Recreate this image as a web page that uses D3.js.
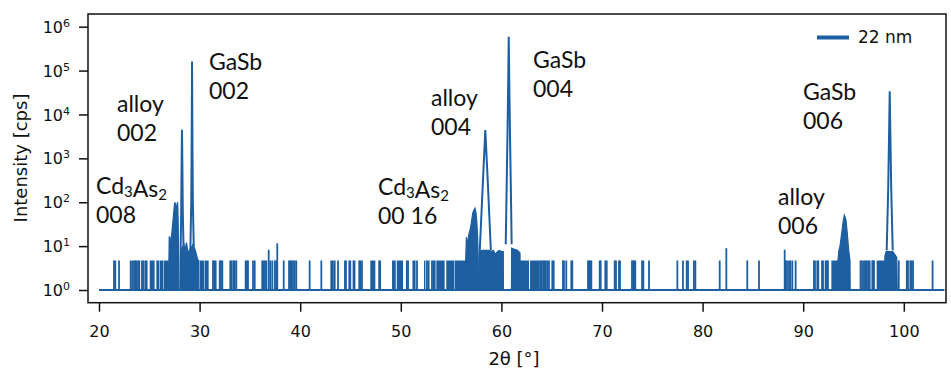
<!DOCTYPE html>
<html><head><meta charset="utf-8">
<script src="https://cdn.jsdelivr.net/npm/d3@7"></script>
<style>body{margin:0;background:#fff}</style>
</head><body><svg id="c" width="951" height="370"></svg>
<script>
// ---------------- data ----------------
const seriesName = "22 nm";
const xTicks = [20, 30, 40, 50, 60, 70, 80, 90, 100];
const yTicks = [1, 10, 100, 1000, 10000, 100000, 1000000];
const yTickExponents = ["0", "1", "2", "3", "4", "5", "6"];
const xLabel = "2θ [°]";
const yLabel = "Intensity [cps]";
const scanRange = [20.0, 104.04];
const baselineCps = 1;
const noiseCps = 4.7;
// single-count spikes (2θ)
const spikePositions = [
  21.49, 21.62, 21.99, 23.15, 23.31, 23.48, 23.6, 23.72, 23.88, 24.0, 24.27, 24.40, 24.6, 24.74,
  31.33, 31.45, 31.6, 32.0, 32.13, 32.26, 33.05, 33.2, 33.39, 33.49, 33.65, 34.58, 34.7, 34.81,
  35.31, 35.48, 36.23, 36.36, 36.5, 36.63, 37.03, 37.23, 37.49, 37.62, 38.36, 38.89, 39.02, 39.15,
  39.28, 39.45, 39.61, 40.94, 42.10, 43.09, 43.25, 43.43, 43.76,
  44.45, 44.55, 44.88, 44.98, 45.3, 45.4, 45.87, 45.97, 46.14, 47.85, 47.95, 50.6, 50.72, 51.25,
  51.38, 51.61, 52.6, 52.77, 53.1, 53.25, 53.37,
  63.87, 64.0, 64.15, 64.30, 64.40, 64.55, 64.73, 65.06, 65.20, 66.12, 66.22, 66.45, 66.95, 67.05,
  68.61, 68.72, 68.83, 68.94, 69.77, 69.87, 70.33, 70.47, 71.26, 71.39, 71.69, 71.79, 72.98, 73.1,
  73.2, 73.31, 73.98, 74.11, 74.67, 77.49, 78.05, 78.42, 78.55, 79.14, 79.28,
  81.70, 84.44, 85.61, 88.26, 88.39, 88.59, 88.72, 88.92, 89.25, 91.07, 91.17, 91.40, 91.50,
  91.87, 91.97, 92.23, 92.35, 92.46,
  95.70, 95.85, 96.04, 96.17, 96.31, 96.45, 96.61, 96.87, 96.95, 97.04,
  99.5, 100.3, 100.42, 100.65, 100.78, 100.92, 102.86
];
const tallSpikes = [[36.87, 8.3], [37.72, 11.7], [82.36, 8.9], [88.16, 8.3]];
// regions where single-count spikes are so dense they merge
const denseBands = [
  [25.04, 25.53], [25.70, 26.0], [26.05, 26.4], [26.45, 26.95],
  [30.0, 30.45], [30.5, 30.9],
  [46.97, 47.47], [49.13, 49.5], [49.6, 50.22], [52.31, 52.45], [53.53, 54.36],
  [54.52, 55.3], [55.35, 56.5],
  [61.85, 62.75], [62.85, 63.81],
  [92.80, 93.5], [97.3, 98.3]
];
// broad (filled) features: [2θ, cps]
const cd008 = [[26.95,4.7],[26.98,16],[27.05,16],[27.1,9],[27.18,14],[27.3,28],[27.4,50],[27.5,88],[27.56,100],[27.64,75],[27.7,72],[27.76,92],[27.82,100],[27.87,40],[27.91,6],[27.93,1]];
const between002 = [[28.12,1],[28.13,8],[28.25,9],[28.45,11],[28.55,8],[28.7,12],[28.85,7],[29.0,8],[29.15,9],[29.35,11],[29.5,9],[29.65,7],[29.8,5],[29.9,4.7],[29.92,1]];
const cd0016 = [[56.45,4.7],[56.52,16],[56.65,11],[56.75,18],[56.88,23],[57.0,32],[57.15,57],[57.3,68],[57.38,73],[57.47,58],[57.55,39],[57.64,16],[57.7,5],[57.72,1]];
const between004 = [[57.82,1],[57.84,7],[58.0,8],[58.4,8],[58.8,8],[59.0,7.5],[59.2,8],[59.4,6.5],[59.6,7.5],[59.8,8],[60.0,7.5],[60.19,7.5],[60.2,1]];
const after004 = [[61.0,1],[61.02,9],[61.3,8.5],[61.6,8],[61.85,7],[61.87,1]];
const alloy006 = [[93.45,4.7],[93.55,8],[93.66,10],[93.83,20],[93.99,39],[94.09,51],[94.18,45],[94.26,38],[94.38,20],[94.52,8],[94.65,4.7],[94.67,1]];
const around006 = [[98.1,1],[98.12,6],[98.25,7.5],[98.9,7.5],[99.1,6.5],[99.3,5.5],[99.35,1]];
const humpEnvelopes = [cd008, between002, cd0016, between004, after004, alloy006, around006];
// sharp Bragg peaks: [2θ, cps]
const alloy002 = [[28.08,1],[28.12,10],[28.17,60],[28.21,700],[28.25,4500],[28.29,700],[28.33,60],[28.4,10]];
const gasb002 = [[29.08,8],[29.17,100],[29.21,2000],[29.25,160000],[29.29,2000],[29.33,100],[29.42,10]];
const alloy004 = [[57.8,1],[57.85,8],[58.14,225],[58.40,4400],[58.67,225],[58.95,8]];
const gasb004 = [[60.43,11],[60.52,200],[60.6,3000],[60.68,60000],[60.73,590000],[60.78,60000],[60.86,3000],[60.94,200],[61.02,11]];
const gasb006 = [[98.3,8],[98.45,200],[98.53,3000],[98.6,34000],[98.67,3000],[98.75,200],[98.9,8]];
const sharpPeaks = [alloy002, gasb002, alloy004, gasb004, gasb006];
// peak labels ("_" marks a subscript digit)
const peakLabels = [
  ["Cd_3As_2", "008"], ["alloy", "002"], ["GaSb", "002"],
  ["Cd_3As_2", "00 16"], ["alloy", "004"], ["GaSb", "004"],
  ["alloy", "006"], ["GaSb", "006"]
];

// ---------------- drawing ----------------
const color = "#1d5fa0";
const svg = d3.select("#c");
const L = 88, R = 946, T = 14, B = 302.7;
const x = d3.scaleLinear().domain([18.907, 104.195]).range([L, R]);
const y = d3.scaleLog().domain([Math.pow(10, -0.2893), Math.pow(10, 6.2893)]).range([B, T]);

const g = svg.append("g");
const clip = svg.append("clipPath").attr("id", "pc");
clip.append("rect").attr("x", L).attr("y", T).attr("width", R - L).attr("height", B - T);
const plot = g.append("g").attr("clip-path", "url(#pc)");

// baseline
plot.append("line").attr("x1", x(scanRange[0])).attr("x2", x(scanRange[1]))
  .attr("y1", y(baselineCps)).attr("y2", y(baselineCps))
  .attr("stroke", color).attr("stroke-width", 2);

// dense bands
plot.selectAll("rect.band").data(denseBands).join("rect").attr("class", "band")
  .attr("x", d => x(d[0])).attr("width", d => x(d[1]) - x(d[0]))
  .attr("y", y(noiseCps)).attr("height", y(baselineCps) - y(noiseCps))
  .attr("fill", color);

// spikes
plot.selectAll("line.sp").data(spikePositions).join("line").attr("class", "sp")
  .attr("x1", d => x(d)).attr("x2", d => x(d))
  .attr("y1", y(baselineCps)).attr("y2", y(noiseCps))
  .attr("stroke", color).attr("stroke-width", 1.8);
plot.selectAll("line.tsp").data(tallSpikes).join("line").attr("class", "tsp")
  .attr("x1", d => x(d[0])).attr("x2", d => x(d[0]))
  .attr("y1", y(baselineCps)).attr("y2", d => y(d[1]))
  .attr("stroke", color).attr("stroke-width", 1.8);

// humps
const area = d3.area().x(d => x(d[0])).y0(y(baselineCps)).y1(d => y(d[1]));
plot.selectAll("path.hump").data(humpEnvelopes).join("path").attr("class", "hump")
  .attr("d", area).attr("fill", color).attr("stroke", color).attr("stroke-width", 1.2);

// sharp peaks
const line = d3.line().x(d => x(d[0])).y(d => y(d[1]));
plot.selectAll("path.pk").data(sharpPeaks).join("path").attr("class", "pk")
  .attr("d", line).attr("fill", "none").attr("stroke", color)
  .attr("stroke-width", 2).attr("stroke-linejoin", "miter").attr("stroke-miterlimit", 20);

// axes
const font = "DejaVu Sans, sans-serif";
const xAxis = g.append("g").attr("transform", `translate(0,${B})`)
  .call(d3.axisBottom(x).tickValues(xTicks).tickSize(9).tickPadding(14).tickSizeOuter(0));
xAxis.select(".domain").remove();
xAxis.selectAll("line").attr("stroke", "#111").attr("stroke-width", 1.5);
xAxis.selectAll("text").attr("font-family", font).attr("font-size", 16).attr("fill", "#111");

const yAxis = g.append("g").attr("transform", `translate(${L},0)`)
  .call(d3.axisLeft(y).tickValues(yTicks).tickSize(9).tickFormat(() => "").tickSizeOuter(0));
yAxis.select(".domain").remove();
yAxis.selectAll("line").attr("stroke", "#111").attr("stroke-width", 1.5);
yAxis.selectAll("g.tick").each(function(d, i) {
  const t = d3.select(this).append("text").attr("x", -18).attr("dy", "0.35em")
    .attr("text-anchor", "end").attr("font-family", font).attr("font-size", 16).attr("fill", "#111");
  t.append("tspan").text("10");
  t.append("tspan").attr("dy", "-0.55em").attr("font-size", 11).text(yTickExponents[i]);
});

// frame
g.append("rect").attr("x", L).attr("y", T).attr("width", R - L).attr("height", B - T)
  .attr("fill", "none").attr("stroke", "#111").attr("stroke-width", 1.5);

// axis titles
g.append("text").attr("x", 514).attr("y", 365).attr("text-anchor", "middle")
  .attr("font-family", font).attr("font-size", 18).attr("fill", "#111").text(xLabel);
g.append("text").attr("transform", "translate(27,158) rotate(-90)").attr("text-anchor", "middle")
  .attr("font-family", font).attr("font-size", 18).attr("fill", "#111").text(yLabel);

// legend
g.append("line").attr("x1", 817).attr("x2", 849).attr("y1", 37.5).attr("y2", 37.5)
  .attr("stroke", color).attr("stroke-width", 4);
g.append("text").attr("x", 858).attr("y", 43).attr("font-family", font).attr("font-size", 17)
  .attr("fill", "#111").text(seriesName);

// peak labels
const labelPos = [[96,194],[117,112],[209,70],[378,195],[431,106],[533,68],[778,205],[803,100]];
const annFont = "Lato, 'Open Sans', sans-serif";
peakLabels.forEach((lines, i) => {
  const [px, py] = labelPos[i];
  lines.forEach((s, j) => {
    const t = g.append("text").attr("x", px).attr("y", py + j * 28.5)
      .attr("font-family", annFont).attr("font-size", 23).attr("fill", "#111");
    const parts = s.split(/(_\d)/).filter(p => p.length);
    parts.forEach(p => {
      if (p[0] === "_") {
        t.append("tspan").attr("font-size", 15).attr("dy", 3).text(p.slice(1));
        t.append("tspan").attr("dy", -3).text("");
      } else {
        t.append("tspan").text(p);
      }
    });
  });
});
</script></body></html>
